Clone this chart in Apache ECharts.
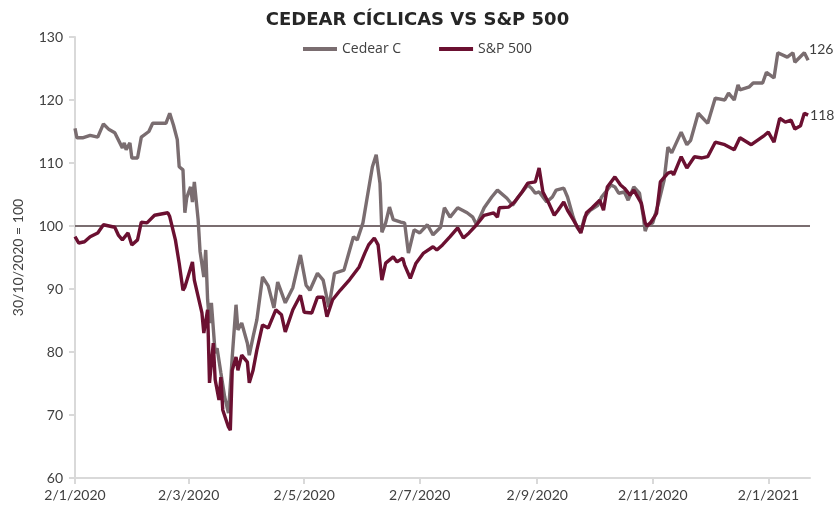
<!DOCTYPE html>
<html>
<head>
<meta charset="utf-8">
<script src="https://cdn.jsdelivr.net/npm/echarts@6/dist/echarts.min.js"></script>
<style>
  html, body { margin: 0; padding: 0; background: #fff; }
  #chart { width: 835px; height: 513px; }
</style>
</head>
<body>
<div id="chart"></div>
<script>
// Cedear cíclicas (base 30/10/2020 = 100)
var cedearDates = [
  '2020-01-02','2020-01-03','2020-01-06','2020-01-10','2020-01-14','2020-01-17','2020-01-20','2020-01-23',
  '2020-01-27','2020-01-28','2020-01-29','2020-01-31','2020-02-01','2020-02-04','2020-02-06','2020-02-10',
  '2020-02-12','2020-02-19','2020-02-21','2020-02-23','2020-02-25','2020-02-26','2020-02-28','2020-02-29',
  '2020-03-01','2020-03-03','2020-03-04','2020-03-05','2020-03-07','2020-03-08','2020-03-10','2020-03-11',
  '2020-03-12','2020-03-13','2020-03-14','2020-03-16','2020-03-17','2020-03-19','2020-03-21','2020-03-23',
  '2020-03-25','2020-03-27','2020-03-28','2020-03-30','2020-04-02','2020-04-03','2020-04-05','2020-04-07',
  '2020-04-10','2020-04-13','2020-04-16','2020-04-18','2020-04-22','2020-04-26','2020-04-30','2020-05-03',
  '2020-05-05','2020-05-09','2020-05-12','2020-05-15','2020-05-18','2020-05-23','2020-05-26','2020-05-28',
  '2020-05-30','2020-06-02','2020-06-04','2020-06-07','2020-06-09','2020-06-11','2020-06-12','2020-06-14',
  '2020-06-16','2020-06-18','2020-06-22','2020-06-24','2020-06-26','2020-06-29','2020-07-02','2020-07-06',
  '2020-07-09','2020-07-13','2020-07-15','2020-07-18','2020-07-22','2020-07-27','2020-07-30','2020-08-01',
  '2020-08-05','2020-08-09','2020-08-12','2020-08-17','2020-08-20','2020-08-23','2020-08-28','2020-08-30',
  '2020-09-01','2020-09-03','2020-09-07','2020-09-10','2020-09-12','2020-09-16','2020-09-18','2020-09-21',
  '2020-09-23','2020-09-25','2020-09-27','2020-09-30','2020-10-04','2020-10-06','2020-10-11','2020-10-13',
  '2020-10-15','2020-10-18','2020-10-20','2020-10-23','2020-10-26','2020-10-28','2020-10-29','2020-10-30',
  '2020-11-02','2020-11-05','2020-11-08','2020-11-10','2020-11-12','2020-11-17','2020-11-20','2020-11-22',
  '2020-11-26','2020-12-01','2020-12-05','2020-12-10','2020-12-12','2020-12-15','2020-12-17','2020-12-18',
  '2020-12-23','2020-12-25','2020-12-30','2021-01-01','2021-01-05','2021-01-07','2021-01-12','2021-01-15',
  '2021-01-16','2021-01-21','2021-01-23'
];
var cedearValues = [
  115.5, 114.0, 114.0, 114.4, 114.1, 116.2, 115.3, 114.8,
  112.4, 113.2, 112.1, 113.2, 110.8, 110.8, 114.1, 115.0,
  116.3, 116.3, 117.9, 116.0, 113.7, 109.4, 108.9, 102.1,
  104.5, 106.2, 103.8, 107.0, 101.0, 96.0, 91.9, 96.2,
  88.3, 84.6, 87.8, 79.8, 80.6, 76.7, 72.9, 70.3,
  79.2, 87.5, 83.5, 84.6, 81.4, 79.5, 82.4, 85.1,
  91.9, 90.5, 87.0, 91.1, 87.8, 90.2, 95.4, 90.6,
  89.8, 92.5, 91.4, 87.1, 92.5, 93.0, 96.2, 98.3,
  97.8, 100.5, 104.1, 109.4, 111.3, 106.8, 99.0, 100.5,
  103.0, 101.0, 100.6, 100.5, 95.7, 99.4, 98.9, 100.2,
  98.6, 99.8, 102.9, 101.4, 102.9, 102.1, 101.4, 100.2,
  102.9, 104.6, 105.7, 104.4, 103.3, 104.6, 106.5, 106.0,
  105.2, 105.4, 103.8, 104.6, 105.7, 106.0, 104.6, 101.4,
  99.8, 99.0, 101.4, 102.5, 103.3, 104.6, 106.5, 106.2,
  105.2, 105.4, 104.1, 106.2, 105.2, 101.5, 99.2, 100.0,
  100.5, 103.6, 107.3, 112.5, 111.6, 114.9, 112.9, 113.6,
  117.9, 116.3, 120.3, 120.0, 121.1, 120.0, 122.4, 121.6,
  122.1, 122.7, 122.7, 124.4, 123.5, 127.5, 126.8, 127.5,
  126.0, 127.5, 126.3
];

// S&P 500 (base 30/10/2020 = 100)
var spDates = [
  '2020-01-02','2020-01-04','2020-01-07','2020-01-10','2020-01-14','2020-01-17','2020-01-23','2020-01-25',
  '2020-01-27','2020-01-30','2020-02-01','2020-02-04','2020-02-06','2020-02-09','2020-02-13','2020-02-20',
  '2020-02-21','2020-02-24','2020-02-26','2020-02-28','2020-02-29','2020-03-03','2020-03-04','2020-03-05',
  '2020-03-09','2020-03-10','2020-03-12','2020-03-13','2020-03-15','2020-03-16','2020-03-18','2020-03-19',
  '2020-03-20','2020-03-23','2020-03-24','2020-03-25','2020-03-27','2020-03-28','2020-03-30','2020-04-02',
  '2020-04-03','2020-04-05','2020-04-07','2020-04-10','2020-04-13','2020-04-17','2020-04-20','2020-04-22',
  '2020-04-26','2020-04-30','2020-05-02','2020-05-06','2020-05-09','2020-05-12','2020-05-14','2020-05-17',
  '2020-05-21','2020-05-26','2020-05-31','2020-06-03','2020-06-05','2020-06-08','2020-06-10','2020-06-12',
  '2020-06-14','2020-06-18','2020-06-20','2020-06-23','2020-06-24','2020-06-27','2020-06-30','2020-07-04',
  '2020-07-09','2020-07-11','2020-07-14','2020-07-18','2020-07-22','2020-07-25','2020-07-28','2020-08-01',
  '2020-08-05','2020-08-10','2020-08-12','2020-08-13','2020-08-18','2020-08-21','2020-08-25','2020-08-28',
  '2020-09-01','2020-09-03','2020-09-05','2020-09-08','2020-09-11','2020-09-13','2020-09-16','2020-09-18',
  '2020-09-21','2020-09-25','2020-09-28','2020-10-01','2020-10-05','2020-10-07','2020-10-09','2020-10-13',
  '2020-10-16','2020-10-18','2020-10-21','2020-10-23','2020-10-27','2020-10-29','2020-10-30','2020-11-01',
  '2020-11-04','2020-11-06','2020-11-10','2020-11-12','2020-11-13','2020-11-17','2020-11-20','2020-11-24',
  '2020-11-28','2020-12-01','2020-12-05','2020-12-10','2020-12-15','2020-12-18','2020-12-24','2020-12-31',
  '2021-01-02','2021-01-05','2021-01-08','2021-01-11','2021-01-14','2021-01-16','2021-01-19','2021-01-21',
  '2021-01-23'
];
var spValues = [
  98.3, 97.3, 97.5, 98.3, 98.9, 100.2, 99.8, 98.5,
  97.8, 98.9, 97.0, 97.8, 100.6, 100.5, 101.7, 102.1,
  101.5, 97.8, 94.1, 89.8, 90.3, 93.3, 94.3, 91.4,
  86.2, 83.0, 86.7, 75.1, 81.4, 75.6, 72.4, 76.0,
  70.8, 68.1, 67.6, 77.1, 79.2, 77.1, 79.5, 78.4,
  75.1, 77.1, 80.3, 84.3, 83.8, 86.7, 85.9, 83.2,
  86.7, 89.0, 86.3, 86.2, 88.7, 88.7, 85.6, 88.3,
  89.8, 91.5, 93.5, 95.7, 97.0, 98.1, 97.0, 91.4,
  94.1, 95.1, 94.3, 94.9, 93.8, 91.7, 94.1, 95.7,
  96.7, 96.2, 97.0, 98.3, 99.7, 98.1, 98.9, 100.2,
  101.7, 102.1, 101.4, 102.9, 103.0, 103.8, 105.4, 106.8,
  107.0, 109.2, 105.4, 103.7, 101.7, 102.5, 103.8, 102.5,
  101.0, 98.9, 102.1, 102.9, 104.1, 102.5, 106.2, 107.8,
  106.5, 106.0, 104.9, 105.7, 103.6, 100.5, 100.0, 100.6,
  102.0, 107.0, 108.4, 108.6, 108.1, 111.0, 109.2, 111.0,
  110.8, 111.0, 113.3, 112.9, 112.1, 114.0, 112.9, 114.4,
  114.9, 113.3, 117.1, 116.5, 116.8, 115.4, 115.9, 117.9,
  117.6
];

var tickDates = ['2020-01-02', '2020-03-02', '2020-05-02', '2020-07-02', '2020-09-02', '2020-11-02', '2021-01-02'];

function toTime(s) {
  var p = s.split('-');
  return new Date(+p[0], +p[1] - 1, +p[2]).getTime();
}
function pairs(dates, vals) {
  return dates.map(function (d, i) { return [toTime(d), vals[i]]; });
}

var chart = echarts.init(document.getElementById('chart'), null, { renderer: 'canvas' });
var tickTimes = tickDates.map(toTime);
var baseFont = 'Lato, "Noto Sans", sans-serif';

var option = {
  animation: false,
  textStyle: { fontFamily: baseFont },
  title: {
    text: 'CEDEAR CÍCLICAS VS S&P 500',
    left: 'center',
    top: 6,
    textStyle: { fontSize: 18, fontWeight: 'bold', color: '#262626', fontFamily: '"DejaVu Sans", sans-serif' }
  },
  legend: {
    top: 37,
    left: 'center',
    itemGap: 38,
    itemWidth: 34,
    itemHeight: 4,
    icon: 'rect',
    textStyle: { fontSize: 14, color: '#404040', fontFamily: '"Open Sans", sans-serif' },
    data: ['Cedear C', 'S&P 500']
  },
  grid: { left: 75, right: 25, top: 37, bottom: 35 },
  xAxis: {
    type: 'value',
    min: toTime('2020-01-02'),
    max: toTime('2021-01-24'),
    axisLine: { lineStyle: { color: '#d9d9d9', width: 2 } },
    axisTick: { show: true, length: 6, customValues: tickTimes, lineStyle: { color: '#d9d9d9', width: 2 } },
    splitLine: { show: false },
    axisLabel: {
      customValues: tickTimes,
      fontSize: 14,
      color: '#404040',
      margin: 10,
      hideOverlap: false,
      formatter: function (v) {
        var d = new Date(v);
        return d.getDate() + '/' + (d.getMonth() + 1) + '/' + d.getFullYear();
      }
    }
  },
  yAxis: {
    type: 'value',
    min: 60,
    max: 130,
    interval: 10,
    name: '30/10/2020 = 100',
    nameLocation: 'middle',
    nameGap: 50,
    nameTextStyle: { fontSize: 14, color: '#404040' },
    axisLine: { show: true, lineStyle: { color: '#d9d9d9', width: 2 } },
    axisTick: { show: true, length: 6, lineStyle: { color: '#d9d9d9', width: 2 } },
    splitLine: { show: false },
    axisLabel: { fontSize: 14, color: '#404040', margin: 12 }
  },
  series: [
    {
      name: 'Cedear C',
      type: 'line',
      data: pairs(cedearDates, cedearValues),
      symbol: 'none',
      color: '#7a6d70',
      lineStyle: { width: 3.4, color: '#7a6d70' },
      z: 3,
      endLabel: {
        show: true,
        distance: 1,
        offset: [0, -11],
        fontSize: 14,
        color: '#404040',
        formatter: function (p) { return Math.round(p.value[1]); }
      },
      markLine: {
        silent: true,
        symbol: 'none',
        label: { show: false },
        lineStyle: { color: '#7a6d70', width: 2, type: 'solid' },
        data: [{ yAxis: 100 }],
        z: 1
      }
    },
    {
      name: 'S&P 500',
      type: 'line',
      data: pairs(spDates, spValues),
      symbol: 'none',
      color: '#6b1031',
      lineStyle: { width: 3.4, color: '#6b1031' },
      z: 4,
      endLabel: {
        show: true,
        distance: 2,
        fontSize: 14,
        color: '#404040',
        formatter: function (p) { return Math.round(p.value[1]); }
      }
    }
  ]
};

chart.setOption(option);
</script>
</body>
</html>
